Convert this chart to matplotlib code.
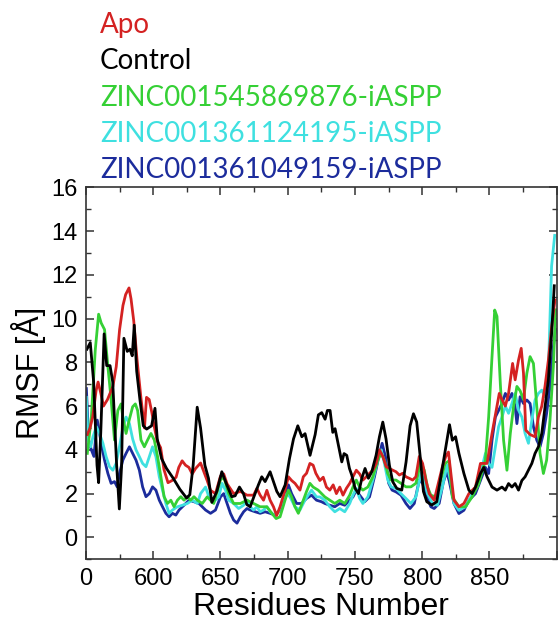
import matplotlib

matplotlib.use("Agg")
import matplotlib.pyplot as plt
from matplotlib.ticker import MultipleLocator

# RMSF traces (residue, value in Angstrom)
apo_res = [551, 553, 555, 557.5, 559, 561, 563, 566, 570, 572.5, 575, 577.5,
           579.5, 582, 583.5, 585.5, 588, 591, 593.5, 595, 597, 599, 601, 603,
           605.5, 608, 611, 614, 617, 619, 621.5, 624, 626.5, 629, 631.5, 635.2,
           640.1, 642.6, 646.3, 650, 652.4, 654.9, 659.8, 664.8, 669.7, 674.6,
           677.1, 679.5, 682, 684.5, 686.9, 689.4, 691.8, 694.3, 698, 700.5,
           702.9, 705.4, 709.1, 711.6, 714, 716.5, 718.9, 720.9, 723.9, 726.4,
           728.8, 731.3, 733.8, 736.2, 738.7, 741.1, 743.6, 746.1, 748.5, 751,
           753.5, 755.9, 758.4, 760.8, 763.3, 765.8, 768.2, 770.7, 773.2, 775.6,
           778.1, 780.5, 783, 785.5, 787.9, 790.4, 792.9, 795.3, 797.8, 800.3,
           802.7, 805.2, 808.9, 812.6, 815, 817.5, 819.5, 823.6, 827.3, 831,
           834.7, 839.6, 843.3, 848.2, 851.9, 855.6, 857.3, 859.3, 861.8, 864.2,
           867.2, 869.1, 871.6, 873.6, 875.3, 877, 880.2, 883.9, 886.4, 888.9,
           891.3, 893.8, 896.2, 898.7]
apo_val = [4.7, 5.0, 5.5, 6.7, 7.1, 6.6, 6.0, 6.3, 6.9, 7.8, 9.5, 10.6,
           11.1, 11.4, 10.9, 9.9, 8.1, 6.3, 5.0, 6.4, 6.3, 5.7, 5.0, 4.4,
           4.1, 3.1, 2.5, 2.6, 2.75, 3.2, 3.5, 3.3, 3.2, 2.9, 3.15, 3.4,
           2.6, 2.15, 2.0, 2.8, 2.9, 2.45, 2.0, 2.1, 1.93, 1.93,
           2.24, 1.93, 1.7, 2.15, 1.7, 1.4, 1.0, 1.4, 2.16, 2.77,
           2.6, 2.47, 2.16, 2.77, 2.93, 3.38, 3.3, 2.93, 2.6, 2.75,
           2.3, 2.16, 2.4, 2.0, 2.3, 1.93, 2.24, 2.47, 2.77, 3.07,
           2.9, 2.62, 2.77, 2.93, 3.07, 3.38, 4.0, 3.7, 3.23, 3.15,
           3.07, 3.0, 2.85, 2.93, 2.77, 2.7, 2.62, 2.77, 3.7, 3.38,
           2.62, 2.0, 1.7, 2.62, 3.23, 3.7, 3.9, 1.7, 1.4, 1.55,
           2.0, 2.3, 3.38, 3.38, 4.75, 6.0, 6.58, 6.3, 6.0, 6.58,
           7.95, 7.2, 8.1, 8.64, 7.5, 4.9, 4.7, 4.6, 5.5, 6.0,
           6.9, 8.1, 9.6, 10.85]

control_res = [550.7, 553.2, 555.7, 558.2, 559.4, 561, 563.5, 565.4, 567.9,
               569.9, 572.8, 574.8, 576.5, 578.2, 580.7, 582.7, 584.4, 585.9,
               587.7, 590.1, 592.6, 595.1, 598.8, 601.3, 603, 606.2, 609.9,
               614.9, 619.8, 624.8, 627.2, 629.7, 632.7, 635.2, 638.4, 641.1,
               643.6, 647.3, 651, 654.7, 658.4, 660.9, 664.1, 667.1, 669.6,
               672.1, 674.5, 678.2, 680.7, 683.2, 686.9, 689.4, 691.9, 694.3,
               698.1, 701.3, 704.3, 707.5, 710.5, 712.9, 716.6, 720.4, 722.8,
               725.3, 727.8, 729.5, 731.5, 733.5, 735.2, 737.7, 740.2, 741.9,
               743.9, 745.9, 747.6, 750.1, 752.6, 755.1, 757.5, 760, 762.5,
               765.7, 768.2, 770.7, 773.1, 775.6, 778.1, 781.1, 784.8, 788,
               791, 793.5, 795.9, 798.4, 800.9, 803.4, 807.1, 810.8, 814.5,
               817.7, 820.3, 822.4, 824.8, 827.3, 831, 834.7, 837.1, 839.6,
               843.3, 845.8, 848.2, 851.9, 855.6, 859.3, 861.8, 864.2, 866.7,
               869.1, 871.6, 874.1, 876.5, 879, 881.5, 883.9, 886.4, 888.9,
               891.3, 893.8, 896.2, 898.2]
control_val = [8.6, 8.9, 7.1, 3.3, 2.5, 4.8, 9.3, 7.85, 7.85,
               7.1, 3.3, 1.3, 3.3, 9.1, 8.5, 8.6, 8.3, 9.7,
               7.6, 6.3, 5.1, 4.95, 5.1, 5.9, 4.5, 3.6, 3.15,
               2.7, 2.2, 1.8, 1.95, 3.3, 5.95, 5.0, 3.3, 2.7,
               1.6, 2.1, 3.0, 2.4, 1.86, 1.9, 2.3, 2.0, 1.5,
               1.4, 1.8, 2.4, 2.77, 2.55, 3.0, 2.55, 2.1, 1.86,
               2.4, 3.6, 4.5, 5.1, 4.6, 4.74, 3.75, 4.7, 5.6,
               5.7, 5.4, 5.8, 5.8, 4.8, 4.97, 4.2, 3.45, 3.83,
               3.75, 3.15, 2.85, 2.24, 2.0, 2.7, 3.15, 2.7, 3.0,
               3.75, 4.6, 5.27, 4.5, 3.3, 2.54, 2.24, 2.16, 3.45,
               5.1, 5.65, 5.27, 3.75, 2.1, 1.63, 1.48, 1.63, 3.0,
               4.2, 5.15, 4.44, 4.6, 3.84, 2.92, 2.16, 2.0, 2.3,
               2.92, 3.2, 2.77, 2.3, 2.16, 2.3, 2.16, 2.46, 2.3,
               2.46, 2.16, 2.6, 2.77, 3.07, 3.38, 3.84, 4.14, 4.75,
               5.97, 7.2, 9.3, 11.5]

zinc876_res = [551, 554, 556.9, 559.4, 561.3, 563.8, 566.3, 568.7, 571.2,
               573.7, 576.1, 577.4, 579.8, 582.3, 584.7, 586.7, 588.4, 590.9,
               593.4, 595.8, 598.3, 600.8, 603.2, 605.7, 608.1, 610.6, 613.1,
               615.5, 618, 620.5, 622.9, 625.4, 627.8, 630.3, 632.8, 636.5,
               640.1, 645, 650, 652.4, 656.1, 659.8, 664.8, 669.7, 674.6,
               679.5, 684.5, 688.2, 691.4, 694.3, 698, 700.5, 702.9, 705.4,
               707.9, 711.6, 714, 716.5, 718.9, 722.6, 727.6, 731.3, 735,
               738.7, 742.4, 746.1, 748.5, 751, 753.5, 755.9, 759.6, 763.3,
               767, 769.5, 771.9, 774.4, 776.9, 780.5, 784.2, 787.9, 791.6,
               795.3, 799, 801.5, 803.9, 806.4, 810.1, 813.8, 817, 820,
               822.4, 827.3, 832.2, 837.1, 842.1, 847, 849.4, 851.9, 853.9,
               855.6, 858.1, 860.5, 863, 865.5, 867.9, 870.4, 872.8, 875.3,
               877.8, 880.2, 882.7, 885.2, 887.6, 890.1, 892.5, 895, 897.5,
               899.2]
zinc876_val = [3.84, 5.5, 8.56, 10.2, 9.8, 9.5, 7.8, 6.3, 4.45,
               5.8, 6.1, 5.5, 4.75, 5.4, 5.97, 6.1, 5.8, 4.45,
               4.14, 4.45, 4.75, 4.45, 3.7, 2.77, 1.86, 1.55, 1.7,
               1.4, 1.7, 1.86, 1.7, 1.86, 1.7, 1.86, 1.7, 1.55,
               1.85, 1.55, 2.62, 2.77, 2.0, 1.55, 1.55, 1.7, 1.55,
               1.4, 1.4, 1.1, 0.86, 0.94, 1.7, 2.16, 1.85, 1.4,
               1.1, 1.7, 2.1, 2.47, 2.3, 2.16, 1.85, 1.7, 1.55,
               1.7, 1.55, 1.93, 2.3, 2.62, 2.3, 2.16, 2.3, 2.77,
               3.53, 3.84, 3.53, 2.92, 2.62, 2.62, 2.47, 2.31, 2.31,
               2.47, 3.45, 3.07, 2.31, 1.93, 1.85, 2.62, 3.38, 3.5,
               1.85, 1.4, 1.4, 1.85, 2.46, 3.53, 5.5, 8.26, 10.39,
               10.1, 7.0, 4.44, 3.07, 4.75, 5.97, 6.9, 6.7, 6.3,
               7.5, 8.26, 7.95, 5.97, 3.84, 2.92, 3.53, 5.36, 7.8,
               10.4]

zinc195_res = [550.3, 551.5, 553.5, 555.2, 557.7, 560.1, 562.6, 565, 567.5,
               570, 572.4, 574.9, 577.4, 579.8, 582.3, 584.7, 587.2, 589.7,
               592.1, 594.6, 597.1, 599.5, 602, 604.5, 606.9, 609.4, 611.8,
               614.3, 618, 621.7, 625.4, 629.1, 632.8, 635.2, 638.9, 641.4,
               645.1, 648.7, 651.2, 653.7, 656.1, 659.8, 663.5, 667.2, 669.7,
               672.1, 674.6, 677.1, 679.5, 682, 684.5, 686.9, 689.9, 693.1,
               696.8, 699.2, 701.7, 705.4, 709.1, 712.8, 715.2, 717.7, 721.4,
               723.9, 727.6, 731.3, 735, 738.7, 742.4, 746.1, 748.5, 751,
               753.5, 755.9, 759.6, 763.3, 767, 769.5, 771.9, 774.4, 776.9,
               780.5, 784.2, 787.9, 791.6, 795.3, 799, 801.5, 803.9, 807.6,
               811.3, 815, 818.5, 821, 823.6, 827.3, 832.2, 837.1, 840.8,
               844.5, 847, 849.4, 851.9, 854.4, 856.8, 859.3, 861.8, 864.2,
               866.7, 869.1, 871.6, 874.1, 876.5, 879, 881.5, 883.9, 886.4,
               888.9, 891.3, 893.8, 896.2, 898.5]
zinc195_val = [6.4, 4.45, 4.14, 4.6, 5.06, 4.75, 4.3, 3.69, 3.23,
               3.07, 3.38, 4.14, 5.0, 5.5, 5.2, 4.5, 4.0, 3.69,
               3.38, 3.23, 3.69, 4.14, 3.69, 2.77, 2.16, 1.55, 1.1,
               1.25, 1.4, 1.47, 1.55, 1.7, 1.55, 2.0, 2.3, 1.85,
               1.63, 1.85, 2.47, 2.16, 1.7, 1.55, 1.32, 1.47, 1.7,
               1.4, 1.25, 1.4, 1.17, 1.25, 1.4, 1.17, 1.02, 1.17,
               1.63, 2.0, 1.85, 1.4, 1.25, 1.7, 1.93, 2.16, 1.85,
               1.85, 1.7, 1.4, 1.17, 1.32, 1.17, 1.55, 1.93, 2.24,
               1.78, 1.55, 1.85, 2.62, 3.53, 4.0, 3.38, 2.62, 2.31,
               2.24, 2.0, 1.78, 1.55, 1.85, 2.92, 2.62, 2.0, 1.55,
               1.47, 2.31, 3.3, 2.6, 1.55, 1.24, 1.4, 2.0, 2.3,
               3.2, 3.84, 3.38, 3.2, 4.14, 5.06, 5.5, 6.0, 5.67,
               6.12, 6.58, 5.82, 5.5, 4.75, 4.3, 5.36, 6.28, 6.58,
               6.73, 6.43, 7.65, 12.4, 13.8]

zinc159_res = [550.3, 552, 554, 555.9, 558.4, 560.1, 561.8, 563.8, 566.3,
               568.7, 571.2, 573.2, 574.9, 577.4, 579.8, 582.3, 584.7, 587.2,
               589.7, 592.1, 594.6, 597.1, 599.5, 602, 604.5, 606.9, 609.4,
               611.8, 614.3, 616.8, 619.2, 621.7, 624.2, 626.6, 630.3, 634,
               638.9, 642.6, 646.3, 650, 652.4, 654.9, 657.4, 659.8, 662.3,
               664.8, 667.2, 669.7, 672.1, 675.8, 679.5, 683.2, 686.9, 690.6,
               694.3, 698, 700.5, 702.9, 706.6, 710.3, 714, 717.7, 721.4,
               725.1, 727.6, 731.3, 735, 738.7, 742.4, 746.1, 748.5, 751,
               753.5, 757.2, 760.8, 764.5, 767.7, 770.2, 772.7, 775.1, 777.6,
               780.5, 784.2, 787.9, 790.9, 794.1, 797.8, 800.3, 802.7, 806.4,
               808.9, 812.6, 815.5, 818, 820, 823.6, 827.3, 831, 834.7,
               839.6, 843.3, 847, 849.4, 851.9, 854.4, 856.8, 859.3, 861.8,
               864.2, 866.7, 869.1, 870.4, 872.8, 875.3, 877.8, 880.2, 882.7,
               885.2, 887.6, 890.1, 892.5, 895, 897.5, 899]
zinc159_val = [6.8, 4.45, 4.0, 3.7, 5.36, 4.75, 4.14, 3.53, 2.92,
               2.47, 2.55, 2.31, 2.92, 3.53, 3.84, 4.14, 3.84, 3.53,
               3.07, 2.31, 1.86, 2.0, 2.31, 2.16, 1.7, 1.4, 1.1,
               0.94, 1.1, 1.02, 1.25, 1.4, 1.55, 1.7, 1.63, 1.55,
               1.25, 1.1, 1.25, 1.85, 2.0, 1.55, 1.1, 0.79, 0.65,
               0.94, 1.17, 1.32, 1.25, 1.17, 1.1, 1.17, 1.1, 1.02,
               1.25, 1.85, 2.4, 2.0, 1.55, 1.55, 1.78, 1.93, 1.7,
               1.63, 1.55, 1.47, 1.4, 1.55, 1.47, 1.7, 1.85, 2.16,
               1.93, 1.63, 1.85, 2.77, 3.68, 4.3, 3.68, 2.47, 2.16,
               2.08, 1.93, 1.55, 1.32, 1.55, 2.62, 2.47, 2.0, 1.4,
               1.32, 1.55, 2.47, 3.0, 2.6, 1.55, 1.09, 1.24, 1.7,
               2.0, 2.6, 3.2, 2.92, 4.44, 5.5, 5.8, 6.12, 6.58,
               6.28, 6.58, 5.97, 5.2, 6.43, 6.12, 6.28, 6.12, 5.06,
               4.44, 4.14, 4.75, 5.67, 6.9, 8.7, 9.5]

x_ticks = [550, 600, 650, 700, 750, 800, 850, 900]
x_tick_labels = ["0", "600", "650", "700", "750", "800", "850", ""]
y_ticks = [0, 2, 4, 6, 8, 10, 12, 14, 16]

SERIES = [
    ("ZINC001361049159-iASPP", zinc159_res, zinc159_val, "#1C2C9C"),
    ("ZINC001361124195-iASPP", zinc195_res, zinc195_val, "#3FE0E0"),
    ("ZINC001545869876-iASPP", zinc876_res, zinc876_val, "#35D035"),
    ("Apo", apo_res, apo_val, "#D42222"),
    ("Control", control_res, control_val, "#000000"),
]
LEGEND_ORDER = ["Apo", "Control", "ZINC001545869876-iASPP",
                "ZINC001361124195-iASPP", "ZINC001361049159-iASPP"]

plt.rcParams["font.family"] = ["Liberation Sans", "DejaVu Sans"]

fig = plt.figure(figsize=(5.59, 6.21), dpi=100)
ax = fig.add_axes([0.1538, 0.0994, 0.8421, 0.599])

for label, xs, ys, color in SERIES:
  ax.plot(xs, ys, color=color, linewidth=2.0, label=label,
          solid_joinstyle="round")

ax.set_xlim(550.5, 899)
ax.set_ylim(-1, 16)
ax.set_xticks(x_ticks)
ax.set_xticklabels(x_tick_labels)
ax.set_yticks(y_ticks)
ax.xaxis.set_minor_locator(MultipleLocator(25))
ax.yaxis.set_minor_locator(MultipleLocator(1))
ax.tick_params(which="both", direction="in", top=True, right=True,
               colors="#333333", labelcolor="black", labelsize=17, pad=6)
ax.tick_params(which="major", length=6, width=1.1)
ax.tick_params(which="minor", length=3.5, width=1.0)
for spine in ax.spines.values():
  spine.set_color("#333333")
  spine.set_linewidth(1.2)

ax.set_xlabel("Residues Number", fontsize=23, labelpad=2)
ax.set_ylabel("RMSF [Å]", fontsize=22, labelpad=4)

# coloured text legend stacked above the axes
colors = {label: color for label, _, _, color in SERIES}
baselines = [33, 69, 106, 142.5, 178.5]
for label, base in zip(LEGEND_ORDER, baselines):
  fig.text(100 / 559, 1 - base / 621, label, color=colors[label],
           fontsize=20, family=["Lato", "DejaVu Sans"], va="baseline",
           ha="left")

fig.savefig("out.png", dpi=100)
